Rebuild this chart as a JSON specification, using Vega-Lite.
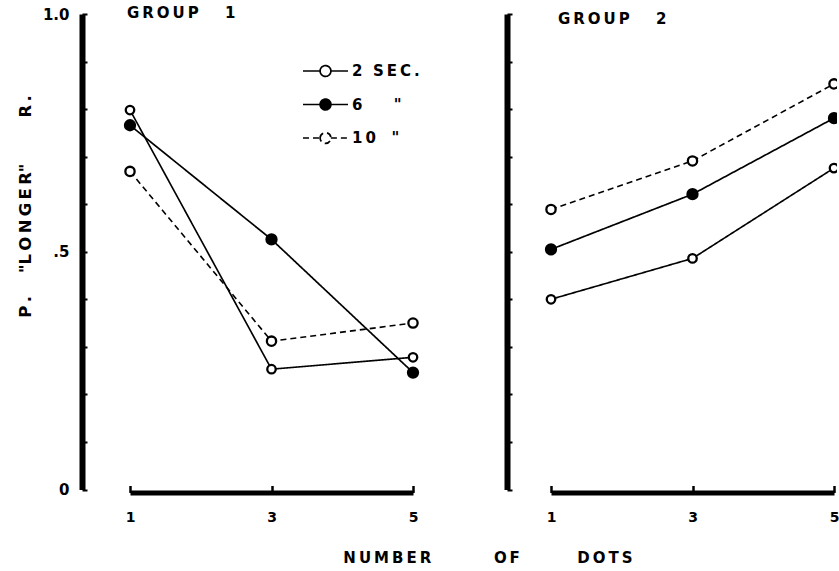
{
  "$schema": "https://vega.github.io/schema/vega-lite/v6.json",
  "padding": {"left": 17, "top": 5, "right": 0, "bottom": 5},
  "background": "white",
  "config": {
    "view": {"stroke": null},
    "font": "DejaVu Sans",
    "axis": {"grid": false, "domainColor": "black", "tickColor": "black", "labelColor": "black", "titleColor": "black", "labelFont": "DejaVu Sans", "labelFontWeight": "bold", "labelOverlap": false, "labelFlush": false},
    "title": {"color": "black", "font": "DejaVu Sans", "fontWeight": "bold"}
  },
  "title": {"text": "N\u2009U\u2009M\u2009B\u2009E\u2009R\u00a0\u00a0\u00a0\u00a0\u00a0\u00a0\u00a0\u00a0\u00a0\u00a0\u00a0\u00a0O\u2009F\u00a0\u00a0\u00a0\u00a0\u00a0\u00a0\u00a0\u00a0\u00a0\u00a0\u00a0D\u2009O\u2009T\u2009S", "orient": "bottom", "anchor": "middle", "fontSize": 15, "offset": 26, "dx": 60},
  "datasets": {
    "obs": [
      {"group": "GROUP 1", "dur": "2 SEC.", "dots": 1, "p": 0.798},
      {"group": "GROUP 1", "dur": "2 SEC.", "dots": 3, "p": 0.253},
      {"group": "GROUP 1", "dur": "2 SEC.", "dots": 5, "p": 0.278},
      {"group": "GROUP 1", "dur": "6", "dots": 1, "p": 0.766},
      {"group": "GROUP 1", "dur": "6", "dots": 3, "p": 0.526},
      {"group": "GROUP 1", "dur": "6", "dots": 5, "p": 0.246},
      {"group": "GROUP 1", "dur": "10", "dots": 1, "p": 0.669},
      {"group": "GROUP 1", "dur": "10", "dots": 3, "p": 0.312},
      {"group": "GROUP 1", "dur": "10", "dots": 5, "p": 0.350},
      {"group": "GROUP 2", "dur": "2 SEC.", "dots": 1, "p": 0.400},
      {"group": "GROUP 2", "dur": "2 SEC.", "dots": 3, "p": 0.486},
      {"group": "GROUP 2", "dur": "2 SEC.", "dots": 5, "p": 0.676},
      {"group": "GROUP 2", "dur": "6", "dots": 1, "p": 0.505},
      {"group": "GROUP 2", "dur": "6", "dots": 3, "p": 0.621},
      {"group": "GROUP 2", "dur": "6", "dots": 5, "p": 0.781},
      {"group": "GROUP 2", "dur": "10", "dots": 1, "p": 0.589},
      {"group": "GROUP 2", "dur": "10", "dots": 3, "p": 0.691},
      {"group": "GROUP 2", "dur": "10", "dots": 5, "p": 0.853}
    ]
  },
  "spacing": 64,
  "hconcat": [
    {
      "width": 360,
      "height": 475.5,
      "title": {"text": "G\u2009R\u2009O\u2009U\u2009P\u00a0\u00a0\u00a0\u00a0\u00a01", "anchor": "start", "frame": "group", "fontSize": 15, "dx": 45, "dy": 20.5, "offset": 0, "baseline": "middle"},
      "data": {"name": "obs"},
      "transform": [{"filter": "datum.group === 'GROUP 1'"}],
      "encoding": {
        "x": {"field": "dots", "type": "quantitative", "scale": {"domain": [1, 5], "range": [48, 331]},
          "axis": {"values": [1, 3, 5], "format": "d", "domainWidth": 5, "tickWidth": 2.5, "tickSize": -7, "labelPadding": 25, "labelFontSize": 14, "title": null, "offset": 3}},
        "y": {"field": "p", "type": "quantitative", "scale": {"domain": [0, 1]},
          "axis": {"values": [0, 0.1, 0.2, 0.3, 0.4, 0.5, 0.6, 0.7, 0.8, 0.9, 1], "labelExpr": "datum.value === 0 ? '0' : (datum.value === 0.5 ? '.5' : (datum.value === 1 ? '1.0' : ''))", "domainWidth": 6, "tickWidth": 2, "tickSize": -5, "labelPadding": 18, "labelFontSize": 15,
            "title": "P\u2009.\u00a0\u00a0\u00a0\u00a0\"L\u2009O\u2009N\u2009G\u2009E\u2009R\"\u00a0\u00a0\u00a0\u00a0\u00a0\u00a0\u00a0\u00a0R\u2009.", "titleX": -57, "titleY": 192, "titleBaseline": "middle", "titleAlign": "center", "titleAngle": -90, "titleFontSize": 16.5, "titleFontWeight": "bold"}}
      },
      "layer": [
        {
          "mark": {"type": "line", "color": "black"},
          "encoding": {
            "strokeDash": {"field": "dur", "type": "nominal", "scale": {"domain": ["2 SEC.", "6", "10"], "range": [[1, 0], [1, 0], [6, 4]]}, "legend": {}},
            "strokeWidth": {"field": "dur", "type": "nominal", "scale": {"domain": ["10", "2 SEC.", "6"], "range": [1.6, 1.7, 2.6]}, "legend": null}
          }
        },
        {
          "mark": {"type": "point", "filled": true, "stroke": "black", "strokeWidth": 2.3, "opacity": 1, "shape": "circle"},
          "encoding": {
            "size": {"field": "dur", "type": "nominal", "scale": {"domain": ["6", "10", "2 SEC."], "range": [100, 72, 72]}, "legend": null},
            "fill": {"field": "dur", "type": "nominal", "scale": {"domain": ["2 SEC.", "6", "10"], "range": ["white", "black", "white"]},
              "legend": {
                "orient": "none", "legendX": 220, "legendY": 42, "title": null, "padding": 0,
                "symbolSize": 2025, "clipHeight": 30, "rowPadding": 3.5, "labelOffset": 3,
                "symbolType": "M-1,0H-0.24M0.24,0H1M-0.24,0A0.24,0.24,0,1,1,0.24,0A0.24,0.24,0,1,1,-0.24,0Z",
                "labelFont": "DejaVu Sans", "labelFontSize": 15, "labelFontWeight": "bold", "labelColor": "black",
                "labelExpr": "datum.label === '2 SEC.' ? '2\u00a0\u00a0S\u2009E\u2009C\u2009.' : (datum.label === '6' ? '6\u00a0\u00a0\u00a0\u00a0\u00a0\u00a0\"' : '1\u20090\u00a0\u00a0\u00a0\"')",
                "symbolStrokeColor": "black", "symbolStrokeWidth": 1.7, "symbolOpacity": 1
              }}
          }
        }
      ]
    },
    {
      "width": 330,
      "height": 475.5,
      "title": {"text": "G\u2009R\u2009O\u2009U\u2009P\u00a0\u00a0\u00a0\u00a0\u00a02", "anchor": "start", "frame": "group", "fontSize": 15, "dx": 51, "dy": 20.5, "offset": 0, "baseline": "middle"},
      "data": {"name": "obs"},
      "transform": [{"filter": "datum.group === 'GROUP 2'"}],
      "encoding": {
        "x": {"field": "dots", "type": "quantitative", "scale": {"domain": [1, 5], "range": [44, 327]},
          "axis": {"values": [1, 3, 5], "format": "d", "domainWidth": 5, "tickWidth": 2.5, "tickSize": -7, "labelPadding": 25, "labelFontSize": 14, "title": null, "offset": 3}},
        "y": {"field": "p", "type": "quantitative", "scale": {"domain": [0, 1]},
          "axis": {"values": [0, 0.1, 0.2, 0.3, 0.4, 0.5, 0.6, 0.7, 0.8, 0.9, 1], "labels": false, "domainWidth": 6, "tickWidth": 2, "tickSize": -5, "title": null}}
      },
      "layer": [
        {
          "mark": {"type": "line", "color": "black", "clip": true},
          "encoding": {
            "strokeDash": {"field": "dur", "type": "nominal", "scale": {"domain": ["2 SEC.", "6", "10"], "range": [[1, 0], [1, 0], [6, 4]]}, "legend": null},
            "strokeWidth": {"field": "dur", "type": "nominal", "scale": {"domain": ["10", "2 SEC.", "6"], "range": [1.6, 1.7, 2.6]}, "legend": null}
          }
        },
        {
          "mark": {"type": "point", "filled": true, "stroke": "black", "strokeWidth": 2.3, "opacity": 1, "shape": "circle", "clip": true},
          "encoding": {
            "size": {"field": "dur", "type": "nominal", "scale": {"domain": ["6", "10", "2 SEC."], "range": [100, 72, 72]}, "legend": null},
            "fill": {"field": "dur", "type": "nominal", "scale": {"domain": ["2 SEC.", "6", "10"], "range": ["white", "black", "white"]}, "legend": null}
          }
        }
      ]
    }
  ],
  "resolve": {"scale": {"fill": "independent", "size": "independent", "strokeDash": "independent", "strokeWidth": "independent"}, "legend": {"fill": "independent", "strokeDash": "independent"}}
}
